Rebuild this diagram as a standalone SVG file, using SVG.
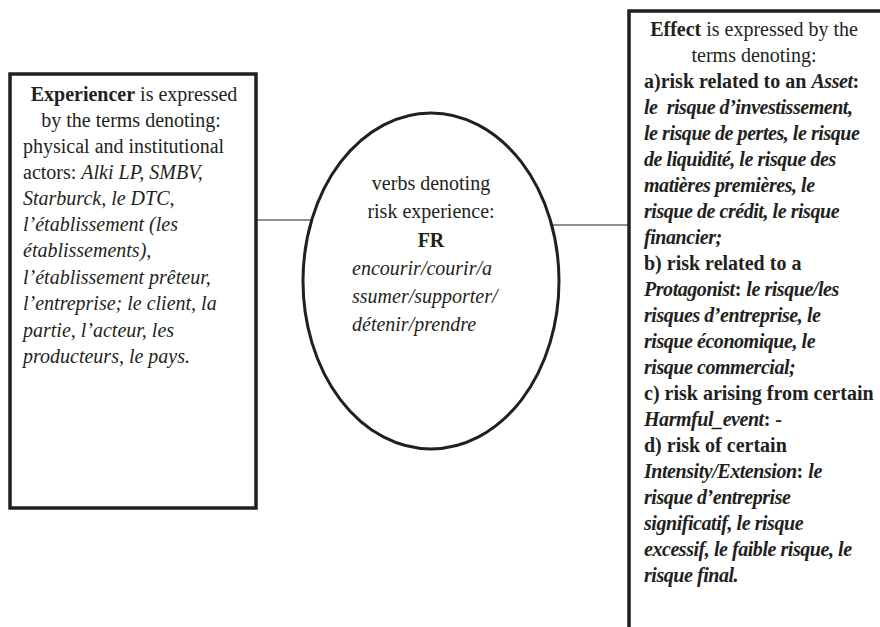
<svg xmlns="http://www.w3.org/2000/svg" width="880" height="627" viewBox="0 0 880 627">
  <style>
    text { font-family: "Liberation Serif", "Times New Roman", serif; font-size: 20px; fill: #231f20; }
    .frame { fill: #ffffff; stroke: #231f20; stroke-width: 3.5; }
    .oval { fill: #ffffff; stroke: #231f20; stroke-width: 3; }
    .link { stroke: #231f20; stroke-width: 1.2; fill: none; }
    .b { font-weight: bold; }
    .i { font-style: italic; }
    .bi { font-weight: bold; font-style: italic; letter-spacing: -0.45px; }
    .mid { text-anchor: middle; }
  </style>

  <rect width="880" height="627" fill="#ffffff"/>

  <!-- connectors -->
  <g id="connectors">
    <line class="link" x1="257" y1="220" x2="312" y2="220"/>
    <line class="link" x1="553" y1="225" x2="629" y2="225"/>
  </g>

  <!-- Experiencer frame -->
  <g id="experiencer">
    <rect class="frame" x="10" y="74" width="246" height="434"/>
    <text class="mid" x="134" y="101"><tspan class="b">Experiencer</tspan> is expressed</text>
    <text class="mid" x="131" y="127">by the terms denoting:</text>
    <text x="23" y="153">physical and institutional</text>
    <text x="23" y="179">actors: <tspan class="i">Alki LP, SMBV,</tspan></text>
    <text class="i" x="23" y="205">Starburck, le DTC,</text>
    <text class="i" x="23" y="231">l’établissement (les</text>
    <text class="i" x="23" y="257">établissements),</text>
    <text class="i" x="23" y="284">l’établissement prêteur,</text>
    <text class="i" x="23" y="310">l’entreprise; le client, la</text>
    <text class="i" x="23" y="337">partie, l’acteur, les</text>
    <text class="i" x="23" y="363">producteurs, le pays.</text>
  </g>

  <!-- verb oval -->
  <g id="verbs">
    <ellipse class="oval" cx="431" cy="281" rx="128" ry="168"/>
    <text class="mid" x="431" y="190">verbs denoting</text>
    <text class="mid" x="431" y="218">risk experience:</text>
    <text class="mid b" x="431" y="247">FR</text>
    <text class="i" x="352" y="275">encourir/courir/a</text>
    <text class="i" x="352" y="303">ssumer/supporter/</text>
    <text class="i" x="352" y="331">détenir/prendre</text>
  </g>

  <!-- Effect frame (runs off the right and bottom edges) -->
  <g id="effect">
    <rect class="frame" x="629" y="11" width="300" height="700"/>
    <text class="mid" x="754" y="36"><tspan class="b">Effect</tspan> is expressed by the</text>
    <text class="mid" x="754" y="62">terms denoting:</text>
    <text class="b" x="644" y="88">a)risk related to an <tspan class="bi">Asset</tspan>:</text>
    <text class="bi" x="644" y="114" style="white-space:pre">le  risque d’investissement,</text>
    <text class="bi" x="644" y="140">le risque de pertes, le risque</text>
    <text class="bi" x="644" y="166">de liquidité, le risque des</text>
    <text class="bi" x="644" y="192">matières premières, le</text>
    <text class="bi" x="644" y="218">risque de crédit, le risque</text>
    <text class="bi" x="644" y="244">financier;</text>
    <text class="b" x="644" y="270">b) risk related to a</text>
    <text class="b" x="644" y="296"><tspan class="bi">Protagonist</tspan>: <tspan class="bi">le risque/les</tspan></text>
    <text class="bi" x="644" y="322">risques d’entreprise, le</text>
    <text class="bi" x="644" y="348">risque économique, le</text>
    <text class="bi" x="644" y="374">risque commercial;</text>
    <text class="b" x="644" y="400">c) risk arising from certain</text>
    <text class="b" x="644" y="426"><tspan class="bi">Harmful_event</tspan>: -</text>
    <text class="b" x="644" y="452">d) risk of certain</text>
    <text class="b" x="644" y="478"><tspan class="bi">Intensity/Extension</tspan>: <tspan class="bi">le</tspan></text>
    <text class="bi" x="644" y="504">risque d’entreprise</text>
    <text class="bi" x="644" y="530">significatif, le risque</text>
    <text class="bi" x="644" y="556">excessif, le faible risque, le</text>
    <text class="bi" x="644" y="582">risque final.</text>
  </g>
</svg>
